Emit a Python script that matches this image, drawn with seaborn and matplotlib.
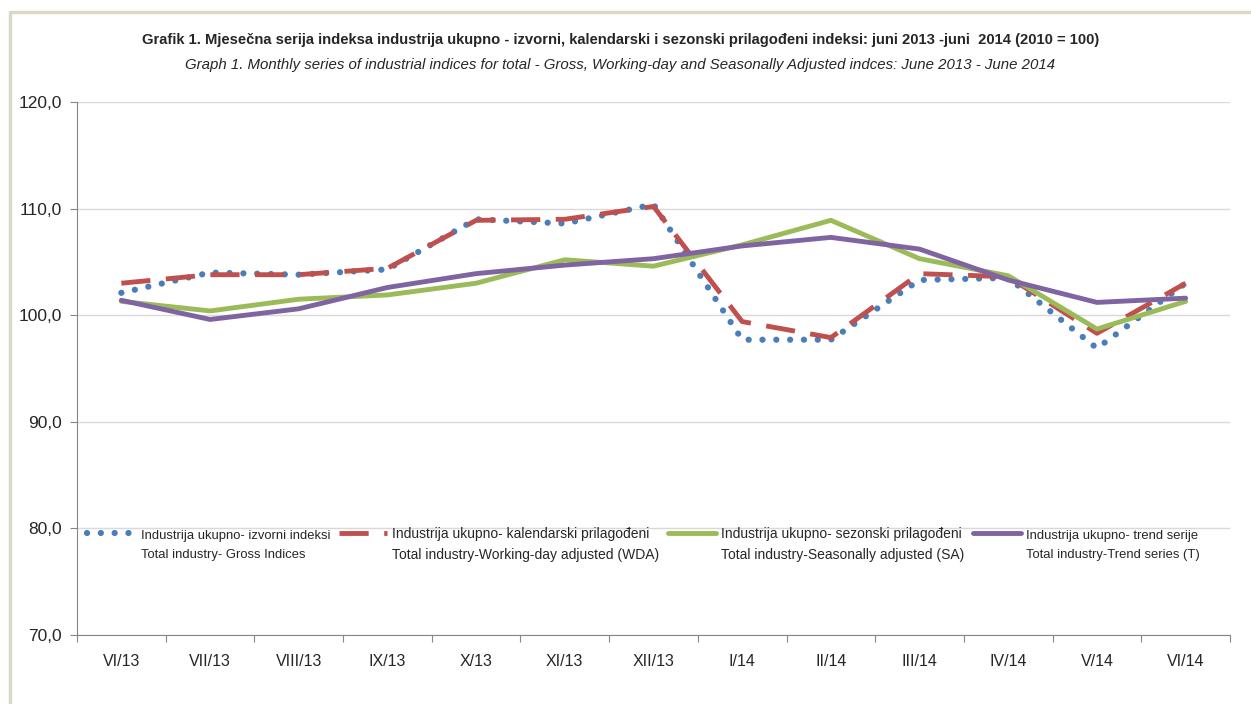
import numpy as np
import pandas as pd
import seaborn as sns
import matplotlib.pyplot as plt
from matplotlib.lines import Line2D
from matplotlib.legend_handler import HandlerLine2D

months = ['VI/13', 'VII/13', 'VIII/13', 'IX/13', 'X/13', 'XI/13', 'XII/13',
          'I/14', 'II/14', 'III/14', 'IV/14', 'V/14', 'VI/14']
gross = [102.1, 104.0, 103.8, 104.3, 109.0, 108.6, 110.4, 97.7, 97.7, 103.3, 103.5, 96.9, 103.0]
wda = [103.0, 103.8, 103.8, 104.4, 108.9, 109.0, 110.2, 99.4, 97.9, 103.9, 103.6, 98.3, 103.0]
sa = [101.3, 100.4, 101.5, 101.9, 103.0, 105.2, 104.6, 106.6, 108.9, 105.3, 103.7, 98.7, 101.3]
trend = [101.4, 99.6, 100.6, 102.6, 103.9, 104.7, 105.3, 106.5, 107.3, 106.2, 103.3, 101.2, 101.6]

labels = ['Industrija ukupno- izvorni indeksi\nTotal industry- Gross Indices',
          'Industrija ukupno- kalendarski prilagođeni\nTotal industry-Working-day adjusted (WDA)',
          'Industrija ukupno- sezonski prilagođeni\nTotal industry-Seasonally adjusted (SA)',
          'Industrija ukupno- trend serije\nTotal industry-Trend series (T)']

sns.set_style('white')
plt.rcParams['font.family'] = ['Liberation Sans', 'DejaVu Sans']

df = pd.DataFrame({'pos': np.arange(len(months)), 'gross': gross, 'wda': wda,
                   'sa': sa, 'trend': trend})

fig = plt.figure(figsize=(12.51, 7.04), dpi=100)
ax = fig.add_axes([77 / 1251, 69 / 704, (1230 - 77) / 1251, (635 - 102) / 704])

lw = 3.5
dot_style = dict(color='#4a7ebb', lw=4.5, linestyle=(0, (0.01, 2.2)), dash_capstyle='round')
dash_style = dict(color='#c0504d', lw=lw, linestyle=(0, (6, 3.2)), dash_capstyle='butt')
sns.lineplot(data=df, x='pos', y='gross', ax=ax, zorder=3, **dot_style)
sns.lineplot(data=df, x='pos', y='wda', ax=ax, zorder=4, **dash_style)
sns.lineplot(data=df, x='pos', y='sa', ax=ax, color='#9bbb59', lw=lw, zorder=5)
sns.lineplot(data=df, x='pos', y='trend', ax=ax, color='#8064a2', lw=lw, zorder=6)

ax.set_xlim(-0.5, len(months) - 0.5)
ax.set_ylim(70, 120)
yt = np.arange(70, 121, 10)
ax.set_yticks(yt)
ax.set_yticklabels([f'{v:.1f}'.replace('.', ',') for v in yt], fontsize=12.5)
ax.set_xticks(np.arange(-0.5, len(months), 1))
ax.set_xticklabels([])
ax.set_xticks(np.arange(len(months)), minor=True)
ax.set_xticklabels(months, minor=True, fontsize=11.5)
ax.tick_params(axis='x', which='major', length=5, color='#868686', direction='out', bottom=True)
ax.tick_params(axis='x', which='minor', length=0, pad=14)
ax.tick_params(axis='y', length=5, color='#868686', direction='out', left=True, pad=6)
ax.set_xlabel('')
ax.set_ylabel('')
ax.grid(axis='y', color='#d9d9d9', lw=1)
ax.set_axisbelow(True)
for s in ['top', 'right']:
    ax.spines[s].set_visible(False)
for s in ['left', 'bottom']:
    ax.spines[s].set_color('#868686')


class TopHandler(HandlerLine2D):
    # put the legend line next to the first text line
    def create_artists(self, *args, **kwargs):
        arts = super().create_artists(*args, **kwargs)
        for a in arts:
            a.set_ydata(np.asarray(a.get_ydata()) + 8.3)
        return arts


handles = [
    Line2D([], [], **dot_style),
    Line2D([], [], **dash_style),
    Line2D([], [], color='#9bbb59', lw=lw),
    Line2D([], [], color='#8064a2', lw=lw),
]
leg = ax.legend(handles, labels, ncol=4, loc='upper left', bbox_to_anchor=(0.009, 0.203),
                frameon=False, fontsize=10, handlelength=3.5, handletextpad=0.35,
                columnspacing=0.6, borderpad=0, borderaxespad=0,
                handler_map={Line2D: TopHandler()})
for i, t in enumerate(leg.get_texts()):
    if i in (0, 3):
        t.set_fontsize(9.4)
        t.set_linespacing(1.75)
    else:
        t.set_linespacing(1.65)

fig.text(0.496, 0.943, 'Grafik 1. Mjesečna serija indeksa industrija ukupno - izvorni, kalendarski i sezonski '
         'prilagođeni indeksi: juni 2013 -juni  2014 (2010 = 100)', ha='center', va='center',
         fontsize=10.6, fontweight='bold')
fig.text(0.496, 0.907, 'Graph 1. Monthly series of industrial indices for total - Gross, Working-day and '
         'Seasonally Adjusted indces: June 2013 - June 2014', ha='center', va='center',
         fontsize=10.8, style='italic')

# outer frame
fig.add_artist(Line2D([10 / 1251, 10 / 1251], [0, (704 - 12) / 704], color='#dcd8c4', lw=2.5,
                      transform=fig.transFigure))
fig.add_artist(Line2D([10 / 1251, 1], [(704 - 12) / 704, (704 - 12) / 704], color='#dcd8c4',
                      lw=2.5, transform=fig.transFigure))

fig.savefig('out.png', dpi=100)
